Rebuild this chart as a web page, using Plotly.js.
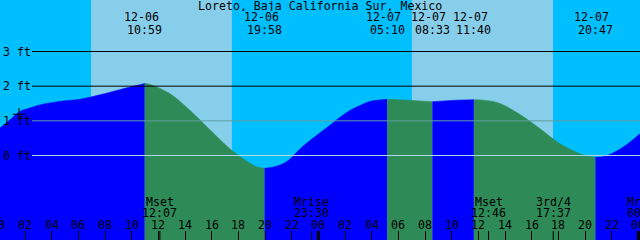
<!DOCTYPE html>
<html><head><meta charset="utf-8">
<script src="https://cdn.plot.ly/plotly-3.0.1.min.js"></script>
<style>html,body{margin:0;padding:0;background:#00BFFF}#chart{width:640px;height:240px}</style>
</head><body><div id="chart"></div>
<script>
// ---------- data (hours counted from 12-06 00:00) ----------
const title = "Loreto, Baja California Sur, Mexico";

const curveHours = [0.125, 0.875, 1.625, 2.375, 3.125, 4.625, 6.125, 7.625, 9.125, 10.25, 10.625,
  11.375, 12.875, 14.375, 15.875, 17.375, 18.875, 19.4,
  20.68, 21.35, 21.875, 22.625, 23.375, 24.875, 25.625, 26.375, 27.125, 27.875, 28.625,
  30.875, 34.1, 37.4, 39.125, 40.625, 42.125, 43.625, 44.225,
  45.425, 46.1, 47.08, 48.125];
const curveFeet = [0.79, 1.03, 1.27, 1.37, 1.46, 1.56, 1.62, 1.75, 1.90, 2.01, 2.04,
  2.05, 1.78, 1.30, 0.74, 0.19, -0.22, -0.33,
  -0.33, -0.24, -0.10, 0.19, 0.43, 0.87, 1.10, 1.30, 1.44, 1.56, 1.60,
  1.59, 1.59, 1.53, 1.18, 0.77, 0.34, 0.05, -0.02,
  -0.03, 0.07, 0.30, 0.63];

const tideDates = ["12-06", "12-06", "12-07", "12-07", "12-07", "12-07"];
const tideTimes = ["10:59", "19:58", "05:10", "08:33", "11:40", "20:47"];
const tideFeet  = [2.08, -0.37, 1.62, 1.55, 1.61, -0.05];

const sunriseDates = ["12-06", "12-07"];
const sunriseTimes = ["06:57", "07:01"];
const sunsetDates  = ["12-06", "12-07"];
const sunsetTimes  = ["17:31", "17:36"];

const moonDates  = ["12-06", "12-06", "12-07", "12-07", "12-08"];
const moonTimes  = ["12:07", "23:30", "12:46", "17:37", "00:28"];
const moonEvents = ["Mset", "Mrise", "Mset", "3rd/4", "Mrise"];

const levelFeet   = [0, 1, 2, 3];
const levelLabels = ["0 ft", "1 ft", "2 ft", "3 ft"];

const hourTicks  = [0, 2, 4, 6, 8, 10, 12, 14, 16, 18, 20, 22, 24, 26, 28, 30, 32, 34, 36, 38, 40, 42, 44, 46, 48];
const hourLabels = ["00","02","04","06","08","10","12","14","16","18","20","22",
                    "00","02","04","06","08","10","12","14","16","18","20","22","00"];

const nowDate = "12-06", nowTime = "01:33";
const nowFeet = [1.19];

// ---------- styles ----------
const NIGHT = "#00BFFF", DAY = "#87CEEB", RISE = "#0000FF", FALL = "#2E8B57";
const LEVEL_COLORS = {0: "#ADD8E6", 1: "#5F9EA0", 2: "#000000", 3: "#000000"};
const FONT = {family: "DejaVu Sans Mono, monospace", size: 11.6, color: "#000000"};
const X_RANGE = [0.125, 48.125];
const Y_RANGE = [-2.4375, 4.4856];
const H = 240;

const dayOffset = {"12-06": 0, "12-07": 24, "12-08": 48};
function toHours(d, t) { const [hh, mm] = t.split(":").map(Number); return dayOffset[d] + hh + mm / 60; }
function xFrac(h) { return (h - X_RANGE[0]) / (X_RANGE[1] - X_RANGE[0]); }
function yFrac(px) { return 1 - px / H; }

// ---------- merge curve samples and extremes ----------
const tideHours = tideDates.map((d, i) => toHours(d, tideTimes[i]));
let pts = curveHours.map((h, i) => ({h, v: curveFeet[i], ext: false}));
tideHours.forEach((h, i) => pts.push({h, v: tideFeet[i], ext: true}));
pts.sort((a, b) => a.h - b.h);

const segments = [];
let cur = [pts[0]];
for (let i = 1; i < pts.length; i++) {
  cur.push(pts[i]);
  if (pts[i].ext) { segments.push(cur); cur = [pts[i]]; }
}
if (cur.length > 1) segments.push(cur);

const traces = [];
segments.forEach(seg => {
  const xs = seg.map(p => p.h), ys = seg.map(p => p.v);
  const col = ys[ys.length - 1] > ys[0] ? RISE : FALL;
  traces.push({x: xs, y: xs.map(() => Y_RANGE[0] - 1), mode: "lines", line: {width: 0}, hoverinfo: "skip", showlegend: false});
  traces.push({x: xs, y: ys, mode: "lines", line: {width: 0.6, color: col, shape: "spline", smoothing: 1, simplify: false},
    fill: "tonexty", fillcolor: col, hoverinfo: "skip", showlegend: false});
});
traces.push({x: [toHours(nowDate, nowTime)], y: nowFeet, mode: "markers",
  marker: {symbol: "cross-thin", size: 9, line: {width: 1, color: "#000"}}, showlegend: false, hoverinfo: "skip"});

// ---------- shapes ----------
const shapes = [];
sunriseDates.forEach((d, i) => {
  shapes.push({type: "rect", xref: "x", yref: "paper", x0: toHours(d, sunriseTimes[i]), x1: toHours(sunsetDates[i], sunsetTimes[i]),
    y0: 0, y1: 1, fillcolor: DAY, line: {width: 0}, layer: "below"});
});
levelFeet.forEach(v => {
  shapes.push({type: "line", xref: "paper", yref: "y", x0: 32 / 640, x1: 1, y0: v, y1: v,
    line: {color: LEVEL_COLORS[v], width: 1}, layer: "above"});
});
hourTicks.filter(h => h % 24 === 0).forEach(h => {
  shapes.push({type: "line", xref: "x", yref: "paper", x0: h, x1: h, y0: 0, y1: 9 / H, line: {color: "#000", width: 3}, layer: "above"});
});
moonDates.forEach((d, i) => {
  const h = toHours(d, moonTimes[i]);
  shapes.push({type: "line", xref: "x", yref: "paper", x0: h, x1: h, y0: 0, y1: 9 / H, line: {color: "#000", width: 1}, layer: "above"});
});

// ---------- annotations ----------
const ann = [];
function txt(text, xf, ypx, opts) {
  ann.push(Object.assign({text, xref: "paper", yref: "paper", x: xf, y: yFrac(ypx), xanchor: "center", yanchor: "middle",
    showarrow: false, font: FONT, borderpad: 0, height: 10}, opts || {}));
}
txt(title, 0.5, 5.5, {height: 11});
tideHours.forEach((h, i) => {
  txt(tideDates[i], xFrac(h), 17.5, {xshift: -3.5});
  txt(tideTimes[i], xFrac(h), 29.5);
});
moonDates.forEach((d, i) => {
  const h = toHours(d, moonTimes[i]);
  txt(moonEvents[i], xFrac(h), 202);
  txt(moonTimes[i], xFrac(h), 212.5);
});
hourTicks.forEach((h, i) => txt(hourLabels[i], xFrac(h), 225));
levelFeet.forEach((v, i) => {
  const px = (Y_RANGE[1] - v) / (Y_RANGE[1] - Y_RANGE[0]) * H;
  txt(levelLabels[i], 1.5 / 640, px, {xanchor: "left"});
});

const layout = {
  width: 640, height: 240, margin: {l: 0, r: 0, t: 0, b: 0, pad: 0},
  paper_bgcolor: NIGHT, plot_bgcolor: NIGHT, showlegend: false,
  xaxis: {range: X_RANGE, showgrid: false, zeroline: false, showline: false, showticklabels: false,
    ticks: "inside", ticklen: 9, tickwidth: 1, tickcolor: "#000", tickmode: "array", tickvals: hourTicks, fixedrange: true},
  yaxis: {range: Y_RANGE, showgrid: false, zeroline: false, showline: false, showticklabels: false, ticks: "", fixedrange: true},
  shapes, annotations: ann
};
Plotly.newPlot("chart", traces, layout, {staticPlot: true, displayModeBar: false});
</script></body></html>
